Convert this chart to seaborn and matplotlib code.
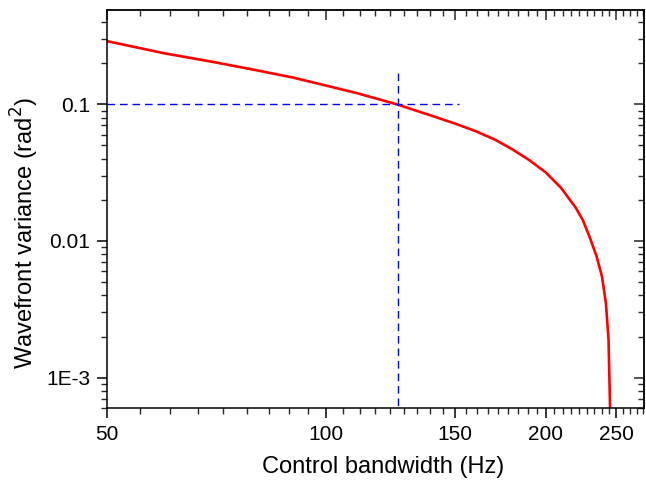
import numpy as np
import pandas as pd
import matplotlib
matplotlib.use("Agg")
import matplotlib.pyplot as plt
import seaborn as sns
from matplotlib.ticker import FixedLocator, FixedFormatter, NullFormatter

# ---- data ----
bandwidth_hz = [50, 60, 70, 80, 90, 100, 110, 125, 140, 150, 160, 170, 180, 190,
                200, 210, 220, 225, 230, 235, 239, 242, 244, 245.2, 245.4]
variance_rad2 = [0.290, 0.236, 0.204, 0.178, 0.157, 0.137, 0.121, 0.100, 0.082,
                 0.0725, 0.0639, 0.0555, 0.0469, 0.0390, 0.0318, 0.0245, 0.0175,
                 0.0142, 0.0106, 0.0077, 0.0055, 0.0035, 0.0019, 0.0006, 0.0004]

cross_x = [125.3]          # vertical guide position (Hz)
cross_y = [0.1]            # horizontal guide level (rad^2)
hline_x = [50, 152]        # horizontal guide extent
vline_y = [0.169, 0.0005]  # vertical guide extent

x_major = [50, 100, 150, 200, 250]
x_major_labels = ["50", "100", "150", "200", "250"]
y_major = [1e-3, 1e-2, 1e-1]
y_major_labels = ["1E-3", "0.01", "0.1"]

x_lim = (50, 273)
y_lim = (6.0e-4, 0.49)

sns.set_theme(style="ticks")
plt.rcParams["font.family"] = ["Liberation Sans", "DejaVu Sans"]
plt.rcParams["axes.linewidth"] = 1.1
plt.rcParams["text.color"] = "black"
plt.rcParams["axes.labelcolor"] = "black"

fig = plt.figure(figsize=(6.46, 4.83), dpi=100)
ax = fig.add_axes([0.1656, 0.1553, 0.8314, 0.8240])

df = pd.DataFrame({"f": bandwidth_hz, "v": variance_rad2})
sns.lineplot(data=df, x="f", y="v", ax=ax, color="#ff0000", linewidth=1.9,
             sort=False, legend=False)

dash = (0, (5.5, 3.5))
ax.plot(hline_x, [cross_y[0], cross_y[0]], color="#0000ff", linewidth=1.0, linestyle=dash)
ax.plot([cross_x[0], cross_x[0]], vline_y, color="#0000ff", linewidth=1.0, linestyle=dash)

ax.set_xscale("log")
ax.set_yscale("log")
ax.set_xlim(*x_lim)
ax.set_ylim(*y_lim)

minor_x = [50 + k * 50 / 9 for k in range(0, 42)]
minor_x = [m for m in minor_x if all(abs(m - M) > 1e-6 for M in x_major) and m <= x_lim[1]]
minor_y = [m * d for d in [1e-4, 1e-3, 1e-2, 1e-1] for m in range(2, 10)]

ax.xaxis.set_major_locator(FixedLocator(x_major))
ax.xaxis.set_major_formatter(FixedFormatter(x_major_labels))
ax.xaxis.set_minor_locator(FixedLocator(minor_x))
ax.xaxis.set_minor_formatter(NullFormatter())
ax.yaxis.set_major_locator(FixedLocator(y_major))
ax.yaxis.set_major_formatter(FixedFormatter(y_major_labels))
ax.yaxis.set_minor_locator(FixedLocator(minor_y))
ax.yaxis.set_minor_formatter(NullFormatter())

ax.tick_params(axis="both", which="major", direction="out", length=7, width=1.1,
               labelsize=15, colors="black", pad=5)
ax.tick_params(axis="both", which="minor", direction="out", length=4, width=1.0)
for s in ax.spines.values():
    s.set_visible(True)
    s.set_color("black")
    s.set_linewidth(1.1)

# mirrored axes with inward ticks
top = ax.secondary_xaxis("top")
top.xaxis.set_major_locator(FixedLocator(x_major))
top.xaxis.set_minor_locator(FixedLocator(minor_x))
top.xaxis.set_major_formatter(NullFormatter())
top.xaxis.set_minor_formatter(NullFormatter())
top.tick_params(which="major", direction="in", length=7, width=1.1)
top.tick_params(which="minor", direction="in", length=4, width=1.0)

right = ax.secondary_yaxis("right")
right.yaxis.set_major_locator(FixedLocator(y_major))
right.yaxis.set_minor_locator(FixedLocator(minor_y))
right.yaxis.set_major_formatter(NullFormatter())
right.yaxis.set_minor_formatter(NullFormatter())
right.tick_params(which="major", direction="in", length=7, width=1.1)
right.tick_params(which="minor", direction="in", length=4, width=1.0)

ax.set_xlabel("Control bandwidth (Hz)", fontsize=17)
ax.xaxis.set_label_coords(0.515, -0.12)
ax.set_ylabel("Wavefront variance (rad$^2$)", fontsize=17)
ax.yaxis.set_label_coords(-0.122, 0.44)

fig.savefig("out.png", dpi=100)
